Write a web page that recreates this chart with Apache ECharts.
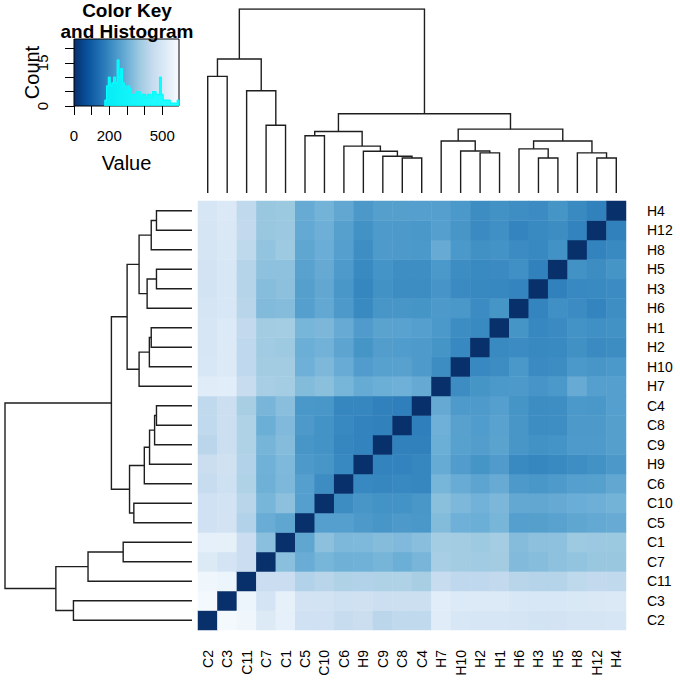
<!DOCTYPE html>
<html>
<head>
<meta charset="utf-8">
<script src="https://cdn.jsdelivr.net/npm/echarts@6/dist/echarts.min.js"></script>
<style>html,body{margin:0;padding:0;background:#fff}#c{width:680px;height:684px}</style>
</head>
<body>
<div id="c"></div>
<script>
// ---- data ----
const labels = ["C2","C3","C11","C7","C1","C5","C10","C6","H9","C9","C8","C4","H7","H10","H2","H1","H6","H3","H5","H8","H12","H4"];

// symmetric distance matrix, lower triangle (row i holds distances to labels[0..i-1])
const distLower = [
  [],
  [585],
  [570, 563],
  [514, 490, 462],
  [545, 543, 462, 343],
  [475, 485, 408, 293, 276],
  [475, 483, 420, 315, 346, 258],
  [450, 472, 406, 304, 324, 258, 212],
  [458, 478, 407, 305, 325, 242, 234, 200],
  [425, 463, 405, 314, 336, 234, 226, 195, 190],
  [436, 466, 405, 299, 328, 242, 225, 200, 190, 185],
  [437, 466, 390, 317, 341, 238, 235, 195, 195, 185, 180],
  [526, 531, 450, 389, 383, 332, 344, 315, 289, 299, 302, 288],
  [503, 513, 434, 381, 381, 302, 324, 292, 250, 262, 263, 245, 212],
  [497, 513, 435, 376, 370, 297, 308, 272, 230, 252, 249, 245, 230, 200],
  [497, 513, 440, 381, 383, 315, 322, 290, 248, 267, 265, 258, 240, 212, 205],
  [492, 503, 422, 330, 336, 258, 281, 241, 205, 234, 234, 230, 242, 238, 210, 230],
  [482, 500, 415, 337, 345, 257, 280, 236, 196, 222, 212, 212, 232, 207, 202, 198, 192],
  [485, 500, 415, 347, 348, 265, 288, 244, 204, 229, 215, 214, 240, 212, 206, 207, 218, 185],
  [492, 505, 432, 355, 372, 275, 296, 258, 213, 245, 243, 240, 290, 240, 220, 225, 210, 200, 222],
  [495, 508, 440, 365, 369, 285, 301, 260, 222, 245, 241, 238, 258, 234, 207, 218, 192, 206, 212, 190],
  [498, 510, 436, 364, 368, 290, 310, 280, 239, 257, 257, 258, 258, 240, 212, 222, 214, 210, 230, 205, 185]
];

// hierarchical clustering merges: [left, right, height]; "mK" = K-th merge
const dendroMerges = [
  ["C8","C4",19.0], ["H3","H5",19.0], ["H12","H4",19.0], ["C9","m1",20.0],
  ["H2","H1",21.8], ["H8","m3",21.8], ["H9","m4",22.7], ["H10","m5",22.8],
  ["H6","m2",24.0], ["C6","m7",25.5], ["H7","m8",28.3], ["m9","m6",28.3],
  ["C5","C10",31.1], ["m13","m10",33.4], ["m11","m12",34.7], ["C7","C1",36.8],
  ["m14","m15",43.1], ["C11","m16",55.6], ["C2","C3",63.4], ["m19","m18",72.8],
  ["m20","m17",100]
];
const dendroMaxHeight = 100;

// colour scale (Blues, reversed)
const bluesRev = ["#08306B","#08519C","#2171B5","#4292C6","#6BAED6","#9ECAE1","#C6DBEF","#DEEBF7","#F7FBFF"];
const keyMin = 0, keyMax = 595;

// histogram in the colour key
const histStart = 175, histBinWidth = 10;
const histCounts = [2,7,10,7,8,10,8,16,10,13, 8,7,5,7,6,4,4,4,5,5, 3,4,4,3,4,4,3,5,5,4, 4,10,4,2,2,2,2,1,1,1, 1,2];
const keyCountMax = 23.3;
const keyValueTickMarks = [0,100,200,300,400,500];
const keyValueTickLabels = [0,200,500];
const keyCountTickMarks = [0,5,10,15,20];
const keyCountTickLabels = [0,15];

// ---- build ----
const FONT = '"Liberation Sans", Arial, Helvetica, sans-serif';
const n = labels.length;
function dist(i, j) { if (i === j) return 0; return i > j ? distLower[i][j] : distLower[j][i]; }
const heatData = [];
for (let i = 0; i < n; i++) for (let j = 0; j < n; j++) heatData.push([i, j, dist(i, j)]);

const nodePos = {};
labels.forEach((l, i) => nodePos[l] = { x: i, h: 0 });
const segs = [];
dendroMerges.forEach((m, k) => {
  const a = nodePos[m[0]], b = nodePos[m[1]], h = m[2];
  segs.push([[a.x, a.h], [a.x, h], [b.x, h], [b.x, b.h]]);
  nodePos['m' + (k + 1)] = { x: (a.x + b.x) / 2, h: h };
});
const colSegs = segs.map(s => ({ coords: s }));
const rowSegs = segs.map(s => ({ coords: s.map(p => [p[1], p[0]]) }));

const histPts = [[histStart, 0]];
histCounts.forEach((c, k) => histPts.push([histStart + k * histBinWidth, c]));
const histEnd = histStart + histCounts.length * histBinWidth;
histPts.push([histEnd, histCounts[histCounts.length - 1]]);
histPts.push([histEnd, 0]);

const gradient = {
  type: 'linear', x: 0, y: 0, x2: 1, y2: 0,
  colorStops: bluesRev.map((c, i) => ({ offset: i / (bluesRev.length - 1), color: c }))
};

const chart = echarts.init(document.getElementById('c'), null, { renderer: 'svg', width: 680, height: 684 });
const dendroLine = { color: '#1e1e1e', width: 1.4, opacity: 1 };

const option = {
  backgroundColor: '#fff',
  animation: false,
  textStyle: { fontFamily: FONT },
  graphic: [{
    type: 'text', x: 127, y: 0, z: 100,
    style: { text: 'Color Key\nand Histogram', fill: '#000', fontFamily: FONT, fontSize: 19, fontWeight: 'bold', align: 'center', verticalAlign: 'top', lineHeight: 21 }
  }],
  grid: [
    { left: 198, top: 201, width: 428, height: 429 },
    { left: 198, top: 9, width: 428, height: 184 },
    { left: 5, top: 201, width: 187, height: 429 },
    { left: 74, top: 39, width: 105, height: 67 }
  ],
  visualMap: {
    type: 'continuous', show: false, seriesIndex: 0, min: keyMin, max: keyMax,
    inRange: { color: bluesRev }
  },
  xAxis: [
    { type: 'category', gridIndex: 0, data: labels, axisLine: { show: false }, axisTick: { show: false },
      splitLine: { show: false },
      axisLabel: { interval: 0, rotate: 90, margin: 20, fontSize: 14, color: '#000', fontFamily: FONT } },
    { type: 'value', gridIndex: 1, min: -0.5, max: n - 0.5, show: false },
    { type: 'value', gridIndex: 2, min: 0, max: dendroMaxHeight, inverse: true, show: false },
    { type: 'value', gridIndex: 3, min: keyMin, max: keyMax, splitLine: { show: false },
      axisLine: { show: false },
      axisTick: { show: true, length: 9, customValues: keyValueTickMarks, lineStyle: { color: '#000', width: 1 } },
      axisLabel: { customValues: keyValueTickLabels, margin: 22, fontSize: 15, color: '#000', fontFamily: FONT },
      name: 'Value', nameLocation: 'middle', nameGap: 47, nameMoveOverlap: false,
      nameTextStyle: { fontSize: 20, color: '#000', fontFamily: FONT } }
  ],
  yAxis: [
    { type: 'category', gridIndex: 0, data: labels, position: 'right', axisLine: { show: false }, axisTick: { show: false },
      splitLine: { show: false },
      axisLabel: { interval: 0, margin: 21, fontSize: 14, color: '#000', fontFamily: FONT } },
    { type: 'value', gridIndex: 1, min: 0, max: dendroMaxHeight, show: false },
    { type: 'value', gridIndex: 2, min: -0.5, max: n - 0.5, show: false },
    { type: 'value', gridIndex: 3, min: 0, max: keyCountMax, splitLine: { show: false },
      axisLine: { show: false },
      axisTick: { show: true, length: 9, customValues: keyCountTickMarks, lineStyle: { color: '#000', width: 1 } },
      axisLabel: { customValues: keyCountTickLabels, rotate: 90, margin: 24, fontSize: 15, color: '#000', fontFamily: FONT },
      name: 'Count', nameLocation: 'middle', nameRotate: 90, nameGap: 32, nameMoveOverlap: false,
      nameTextStyle: { fontSize: 20, color: '#000', fontFamily: FONT } }
  ],
  series: [
    { type: 'heatmap', xAxisIndex: 0, yAxisIndex: 0, data: heatData, silent: true,
      itemStyle: { borderWidth: 0 }, emphasis: { disabled: true } },
    { type: 'lines', coordinateSystem: 'cartesian2d', xAxisIndex: 1, yAxisIndex: 1, polyline: true,
      data: colSegs, lineStyle: dendroLine, silent: true },
    { type: 'lines', coordinateSystem: 'cartesian2d', xAxisIndex: 2, yAxisIndex: 2, polyline: true,
      data: rowSegs, lineStyle: dendroLine, silent: true },
    { type: 'line', xAxisIndex: 3, yAxisIndex: 3, data: histPts, step: 'end', symbol: 'none', silent: true,
      lineStyle: { color: '#00FFFF', width: 1.3 },
      areaStyle: { color: '#00FFFF', opacity: 0.85 },
      markArea: { silent: true,
        itemStyle: { color: gradient, borderColor: '#000', borderWidth: 1 },
        data: [[{ coord: [keyMin, 0] }, { coord: [keyMax, keyCountMax] }]] } }
  ]
};
chart.setOption(option);
</script>
</body>
</html>
